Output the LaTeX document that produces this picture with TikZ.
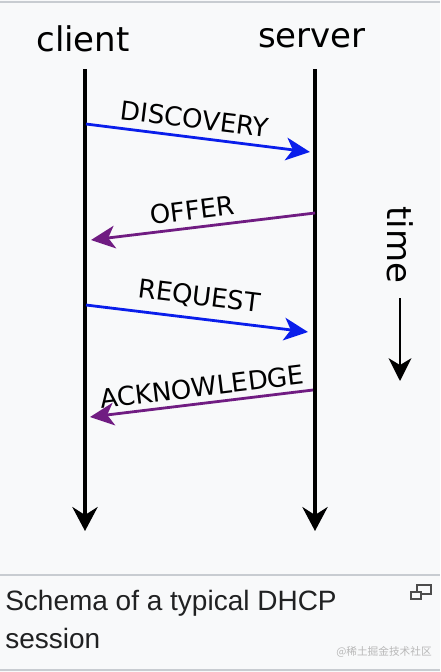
\documentclass[tikz,border=0pt]{standalone}
\usepackage{fontspec}
\setmainfont{DejaVu Sans}
\newfontfamily\capfont{Liberation Sans}
\newfontfamily\cjkfont{Noto Sans CJK SC}
\usetikzlibrary{arrows.meta}
\definecolor{bgc}{HTML}{F8F9FA}
\definecolor{rulec}{HTML}{C8CCD1}
\definecolor{msgblue}{RGB}{10,30,235}
\definecolor{msgpurple}{RGB}{112,28,130}
\definecolor{wmark}{HTML}{B8B8B8}
\definecolor{captc}{HTML}{202122}
\tikzset{
  px/.style={x=0.75pt,y=-0.75pt},
  lifeline/.style={line width=2.4pt,-{Stealth[length=18pt,width=19pt,inset=6pt]}},
  msgline/.style={line width=2.1pt,-{Stealth[length=18pt,width=17pt,inset=5pt]}},
  bluemsg/.style={msgline,draw=msgblue,color=msgblue},
  purplemsg/.style={msgline,draw=msgpurple,color=msgpurple},
  msglabel/.style={font=\fontsize{19.5}{22}\selectfont,inner sep=0pt,text=black},
  actor/.style={font=\fontsize{25.5}{28}\selectfont,inner sep=0pt,text=black},
  captext/.style={font=\capfont\fontsize{21}{24}\selectfont,text=captc,inner sep=0pt,anchor=west},
}
\begin{document}
\begin{tikzpicture}[px]
\useasboundingbox (0,0) rectangle (440,672);
\fill[bgc] (0,0) rectangle (440,672);
% frame rules
\draw[rulec,line width=1.5pt] (0,2) -- (440,2);
\draw[rulec,line width=1.5pt] (0,575) -- (440,575);
\draw[rulec,line width=1.5pt] (0,670) -- (440,670);
% actors
\node[actor] (client) at (83,39) {client};
\node[actor] (server) at (312,38) {server};
% lifelines
\coordinate (ctop) at (85,69);
\coordinate (cbot) at (85,531);
\coordinate (stop) at (315,69);
\coordinate (sbot) at (315,531);
\draw[lifeline] (ctop) -- (cbot);
\draw[lifeline] (stop) -- (sbot);
% message endpoints
\coordinate (d1) at (86,124);  \coordinate (d2) at (310,152);
\coordinate (o1) at (315,213); \coordinate (o2) at (91,240);
\coordinate (r1) at (86,305);  \coordinate (r2) at (308,332);
\coordinate (a1) at (313,390); \coordinate (a2) at (90,417);
\draw[bluemsg] (d1) -- (d2);
\draw[purplemsg] (o1) -- (o2);
\draw[bluemsg] (r1) -- (r2);
\draw[purplemsg] (a1) -- (a2);
% message labels
\node[msglabel,rotate=-7] (ldisc) at (195,119) {DISCOVERY};
\node[msglabel,rotate=7] (loffer) at (192,210) {OFFER};
\node[msglabel,rotate=-7] (lreq) at (199,297) {REQUEST};
\node[msglabel,rotate=7] (lack) at (202,387) {ACKNOWLEDGE};
% time
\node[actor,rotate=-90] (time) at (400,245) {time};
\coordinate (t1) at (400,298);
\coordinate (t2) at (400,381);
\draw[line width=2.1pt,-{Stealth[length=17pt,width=17pt,inset=5pt]}] (t1) -- (t2);
% caption
\node[captext] (cap1) at (5,603) {Schema of a typical DHCP};
\node[captext] (cap2) at (5,638) {session};
% enlarge icon
\draw[black!70,line width=0.8pt,fill=bgc] (417,585) rectangle (431,594);
\draw[black!70,line width=0.8pt,fill=bgc] (411,592) rectangle (421,599);
% watermark
\node[font=\cjkfont\fontsize{8}{9}\selectfont,text=wmark,inner sep=0pt] (wm) at (384,652) {@稀土掘金技术社区};
\end{tikzpicture}
\end{document}
